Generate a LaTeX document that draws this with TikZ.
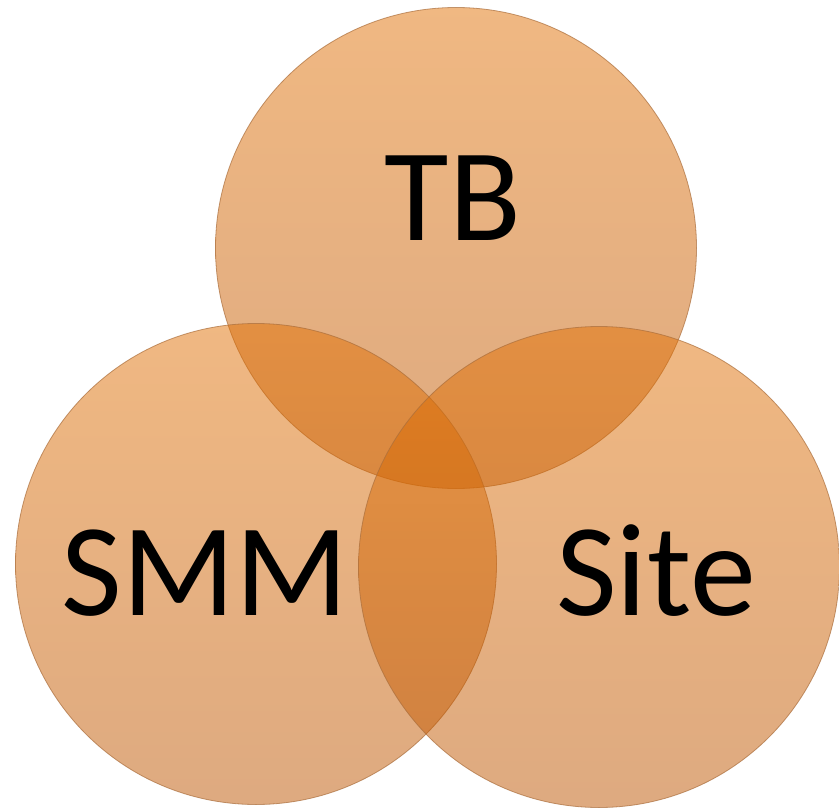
\documentclass[tikz,border=0pt]{standalone}
\usepackage{fontspec}
\setmainfont{Carlito}
\usetikzlibrary{positioning}
\definecolor{vennTop}{RGB}{225,113,5}
\definecolor{vennBot}{RGB}{189,85,1}
\definecolor{vennEdge}{RGB}{170,110,60}
\begin{document}
\begin{tikzpicture} [x=1pt, y=-1pt,
    set/.style={circle, minimum size=481pt, inner sep=0pt, top color=vennTop, bottom color=vennBot,
        fill opacity=0.5, draw=vennEdge, draw opacity=0.7, line width=0.8pt},
    setlabel/.style={font=\fontsize{132}{140}\selectfont, anchor=base, inner sep=0pt},]
\useasboundingbox (0,0) rectangle (839,808);
% the three sets
\node[set] (tbset) at (456,248) {};
\node[set] (smmset) at (256,564) {};
\node[set] (siteset) at (599,567) {};
% labels
\node[setlabel] (tb) at (453,240) {TB};
\node[setlabel] (smm) at (205,615) {SMM};
\node[setlabel] (site) at (656,615) {Site};

\end{tikzpicture}
\end{document}
